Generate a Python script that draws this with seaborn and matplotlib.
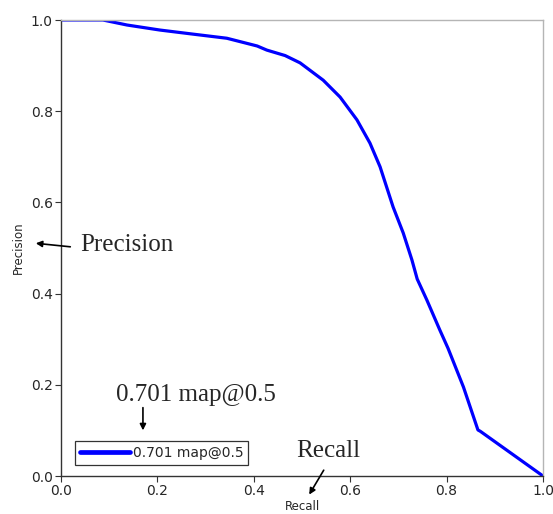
import matplotlib
matplotlib.use("Agg")
import matplotlib.pyplot as plt
import seaborn as sns
import pandas as pd

# Precision-recall curve points
recall = [0.0, 0.087, 0.137, 0.205, 0.274, 0.344, 0.407, 0.427, 0.465, 0.496,
          0.544, 0.579, 0.614, 0.641, 0.662, 0.689, 0.710, 0.728, 0.739, 0.759,
          0.786, 0.803, 0.835, 0.865, 0.870, 1.0]
precision = [1.0, 1.0, 0.989, 0.978, 0.969, 0.960, 0.943, 0.934, 0.922, 0.906,
             0.868, 0.831, 0.781, 0.730, 0.678, 0.590, 0.533, 0.474, 0.432, 0.386,
             0.320, 0.280, 0.195, 0.101, 0.098, 0.0]
series_label = "0.701 map@0.5"
x_ticks = [0.0, 0.2, 0.4, 0.6, 0.8, 1.0]
y_ticks = [0.0, 0.2, 0.4, 0.6, 0.8, 1.0]

df = pd.DataFrame({"Recall": recall, "Precision": precision})

sns.set_style("ticks")
plt.rcParams["font.family"] = ["DejaVu Sans"]

fig = plt.figure(figsize=(5.53, 5.14), dpi=100)
ax = fig.add_axes([61 / 553, 38 / 514, 482 / 553, 456 / 514])

sns.lineplot(data=df, x="Recall", y="Precision", sort=False, color="#0000ff",
             linewidth=2.3, label=series_label, ax=ax)

ax.set_xlim(0, 1)
ax.set_ylim(0, 1)
ax.set_xticks(x_ticks)
ax.set_yticks(y_ticks)
ax.tick_params(labelsize=10, length=4, width=0.8, color="#333333", pad=2)
ax.set_xlabel("Recall", fontsize=8.5, labelpad=1)
ax.set_ylabel("Precision", fontsize=8.5, labelpad=4)

for side in ("left", "bottom"):
    ax.spines[side].set_color("#333333")
    ax.spines[side].set_linewidth(1.0)
for side in ("top", "right"):
    ax.spines[side].set_visible(True)
    ax.spines[side].set_color("#b5b5b5")
    ax.spines[side].set_linewidth(1.0)

leg = ax.legend(loc="lower left", bbox_to_anchor=(0.021, 0.015), fontsize=10,
                frameon=True, fancybox=False, handlelength=3.6, handletextpad=0.2,
                borderpad=0.35, borderaxespad=0.3)
leg.get_frame().set_edgecolor("black")
leg.get_frame().set_linewidth(0.9)
for line in leg.get_lines():
    line.set_linewidth(3.4)

serif = ["Liberation Serif", "DejaVu Serif"]
arrow = dict(arrowstyle="-|>", color="black", lw=1.2, mutation_scale=9)

# Callouts pointing at the axis labels and legend
ax.text(0.039, 0.507, "Precision", transform=ax.transAxes, fontsize=18,
        family=serif, va="center", ha="left")
ax.annotate("", xy=(-0.058, 0.511), xytext=(0.025, 0.502),
            xycoords="axes fraction", textcoords="axes fraction",
            arrowprops=arrow, annotation_clip=False)

ax.text(0.28, 0.178, series_label, transform=ax.transAxes, fontsize=18,
        family=serif, va="center", ha="center")
ax.annotate("", xy=(0.170, 0.094), xytext=(0.170, 0.156),
            xycoords="axes fraction", textcoords="axes fraction",
            arrowprops=arrow, annotation_clip=False)

ax.text(0.554, 0.055, "Recall", transform=ax.transAxes, fontsize=18,
        family=serif, va="center", ha="center")
ax.annotate("", xy=(0.512, -0.046), xytext=(0.548, 0.018),
            xycoords="axes fraction", textcoords="axes fraction",
            arrowprops=arrow, annotation_clip=False)

fig.savefig("out.png", dpi=100)
